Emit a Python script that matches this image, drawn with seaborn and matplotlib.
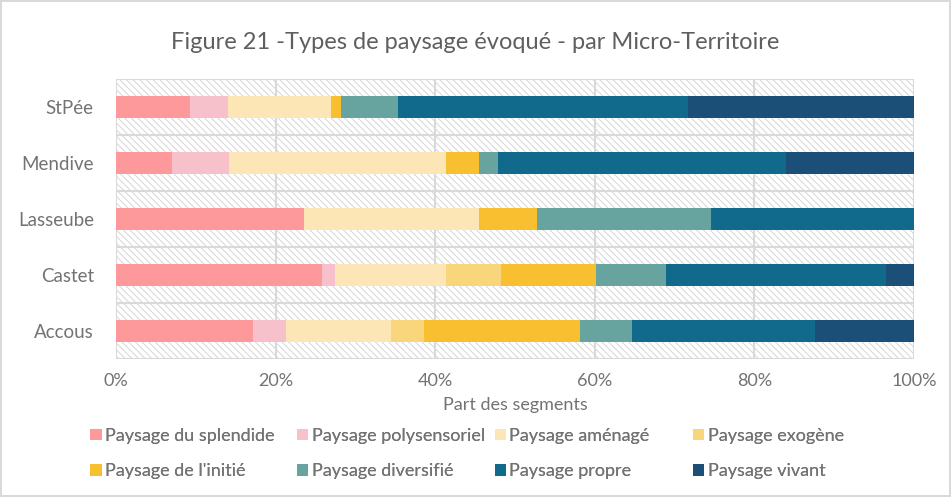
import numpy as np
import pandas as pd
import seaborn as sns
import matplotlib.pyplot as plt
from matplotlib.patches import Rectangle, Patch

territoires = ["StPée", "Mendive", "Lasseube", "Castet", "Accous"]
types = ["Paysage du splendide", "Paysage polysensoriel", "Paysage aménagé",
         "Paysage exogène", "Paysage de l'initié", "Paysage diversifié",
         "Paysage propre", "Paysage vivant"]

# parts (%) par micro-territoire
splendide = [9.3, 7.0, 23.6, 25.8, 17.2]
polysensoriel = [4.7, 7.2, 0.0, 1.7, 4.1]
amenage = [12.9, 27.2, 21.9, 13.8, 13.2]
exogene = [0.0, 0.0, 0.0, 6.9, 4.1]
initie = [1.3, 4.1, 7.2, 12.0, 19.5]
diversifie = [7.1, 2.4, 21.9, 8.7, 6.6]
propre = [36.4, 36.1, 25.4, 27.6, 22.9]
vivant = [28.3, 16.0, 0.0, 3.5, 12.4]

couleurs = ["#FD999A", "#F7C1CB", "#FCE6B6", "#F9D57B",
            "#F8BF31", "#67A39F", "#11698B", "#1B4F78"]

df = pd.DataFrame({"territoire": territoires})
for t, v in zip(types, [splendide, polysensoriel, amenage, exogene,
                        initie, diversifie, propre, vivant]):
    df[t] = v
cum = df[types].cumsum(axis=1)

sns.set_style("white")
plt.rcParams['font.family'] = ['Lato', 'DejaVu Sans']
gris = "#737373"

fig = plt.figure(figsize=(9.51, 4.97), dpi=100)
fig.patch.set_edgecolor("#D9D9D9")
fig.patch.set_linewidth(1.5)
ax = fig.add_axes([0.122, 0.278, 0.839, 0.563])

# fond hachuré de la zone de tracé
plt.rcParams['hatch.linewidth'] = 0.7
ax.add_patch(Rectangle((0, 0), 1, 1, transform=ax.transAxes, facecolor="white",
                       edgecolor="#D6D6D6", hatch="\\\\\\\\\\", lw=0, zorder=0.5))

# barres empilées : on dessine les cumuls du plus grand au plus petit
for t, c in reversed(list(zip(types, couleurs))):
    sns.barplot(x=cum[t], y=df["territoire"], order=territoires, orient="h",
                color=c, saturation=1, width=0.39, edgecolor="none",
                ax=ax, zorder=3)

for xv in range(0, 101, 20):
    ax.axvline(xv, color="#D9D9D9", lw=1.5, zorder=1)
for yv in np.arange(-0.5, len(territoires), 1):
    ax.axhline(yv, color="#D9D9D9", lw=1.5, zorder=1)

ax.set_xlim(0, 100)
ax.set_ylim(len(territoires) - 0.5, -0.5)
ax.set_xticks(range(0, 101, 20))
ax.set_xticklabels([f"{v}%" for v in range(0, 101, 20)])
ax.tick_params(axis="x", colors=gris, labelsize=13, length=0, pad=10)
ax.tick_params(axis="y", colors=gris, labelsize=13.5, length=0, pad=16)
ax.set_ylabel("")
ax.set_xlabel("Part des segments", color=gris, fontsize=13, labelpad=6)
for s in ax.spines.values():
    s.set_visible(False)

fig.suptitle("Figure 21 -Types de paysage évoqué - par Micro-Territoire",
             color="#5F5F5F", fontsize=17, y=0.935)

# légende en 2 lignes de 4 colonnes de largeur égale
col_x = [0.095, 0.312, 0.520, 0.729]
row_y = [0.123, 0.052]
for i, (t, c) in enumerate(zip(types, couleurs)):
    leg = fig.legend([Patch(facecolor=c, edgecolor="none")], [t],
                     loc="center left",
                     bbox_to_anchor=(col_x[i % 4], row_y[i // 4]),
                     frameon=False, borderpad=0, borderaxespad=0,
                     prop={"size": 13},
                     handlelength=0.62, handleheight=0.62, handletextpad=0.2,
                     labelcolor=gris)
    fig.add_artist(leg)

fig.savefig("out.png", dpi=100)
